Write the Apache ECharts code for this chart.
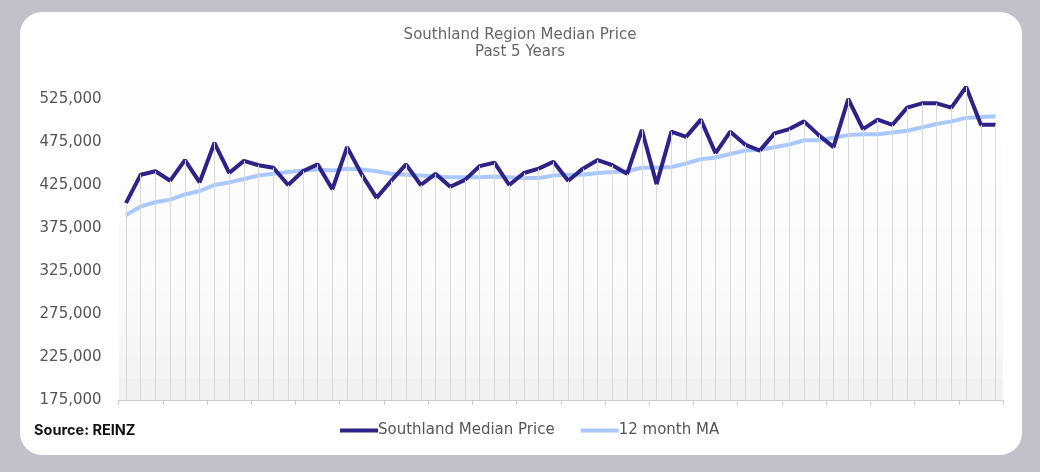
<!DOCTYPE html>
<html lang="en">
  <head>
    <meta charset="utf-8" />
    <title>Southland</title>
    <style>
      * { margin: 0; padding: 0; }
      body { background: #c2c1c9; }
      #card {
        position: absolute; left: 20px; top: 12px; width: 1002px; height: 443px;
        background: #fff; border-radius: 22px; overflow: hidden;
      }
      #chart-container { position: absolute; left: 0; top: 0; width: 1040px; height: 472px; }
      #src { position: absolute; left: 34px; top: 421px; font: bold 14.5px Inter, sans-serif; color: #111; }
    </style>
  </head>
  <body>
    <div id="card"></div>
    <div id="chart-container"></div>
    <div id="src">Source: REINZ</div>
    <script src="https://fastly.jsdelivr.net/npm/echarts@6/dist/echarts.min.js"></script>
    <script>
      var medianPrice = [404000, 437000, 441000, 430000, 454000, 428000, 474000, 439000, 453000, 448000,
        445000, 425000, 441000, 449000, 420000, 469000, 437000, 410000, 430000, 449000,
        425000, 438000, 423000, 431000, 447000, 451000, 425000, 439000, 444000, 452000,
        430000, 444000, 454000, 448000, 438000, 489000, 426000, 487000, 481000, 501000,
        462000, 487000, 472000, 465000, 485000, 490000, 499000, 483000, 469000, 525000,
        490000, 501000, 495000, 515000, 520000, 520000, 515000, 539000, 495000, 495000];
      var movingAvg = [390000, 400000, 405000, 408000, 414000, 418000, 425000, 428000, 432000, 436000,
        438000, 440000, 442000, 443000, 442000, 444000, 443000, 441000, 438000, 437000,
        436000, 435000, 434000, 434000, 434000, 435000, 434000, 433000, 433000, 436000,
        437000, 437000, 439000, 440000, 441000, 445000, 445000, 446000, 450000, 455000,
        457000, 461000, 465000, 466000, 469000, 472000, 477000, 477000, 480000, 483000,
        484000, 484000, 486000, 488000, 492000, 496000, 499000, 503000, 504000, 505000];
      var months = medianPrice.map(function (v, i) { return "M" + (i + 1); });

      var myChart = echarts.init(document.getElementById("chart-container"));
      var option = {
        title: {
          text: "Southland Region Median Price\nPast 5 Years",
          left: "center", top: 22,
          textStyle: { fontFamily: "DejaVu Sans", fontSize: 15, fontWeight: "normal", color: "#666", lineHeight: 17 }
        },
        legend: {
          bottom: 29, left: 335, itemGap: 26, itemWidth: 38, itemHeight: 4, icon: "rect",
          textStyle: { fontFamily: "DejaVu Sans", fontSize: 15, color: "#555", padding: [0, 0, 0, -5] },
          data: ["Southland Median Price", "12 month MA"]
        },
        grid: { left: 118.6, right: 37, top: 77.5, bottom: 72 },
        xAxis: {
          type: "category", data: months, boundaryGap: true,
          axisLine: { lineStyle: { color: "#ccc" } },
          axisTick: { show: true, length: 5, lineStyle: { color: "#ccc" } },
          axisLabel: { show: false },
          splitLine: { show: false }
        },
        yAxis: {
          type: "value", min: 175000, max: 550000, interval: 25000,
          axisLine: { show: false }, axisTick: { show: false },
          splitLine: { show: false },
          splitArea: { show: true, areaStyle: { color: ["#f1f1f1", "#f4f4f4", "#f6f6f6", "#f8f8f8", "#f9f9f9", "#fafafa", "#fbfbfb", "#fbfbfb", "#fcfcfc", "#fcfcfc", "#fdfdfd", "#fdfdfd", "#fefefe", "#fefefe", "#fefefe"] } },
          axisLabel: {
            fontFamily: "DejaVu Sans", fontSize: 15, color: "#555", margin: 17,
            formatter: function (v) {
              return (v - 175000) % 50000 === 0 && v <= 525000 ? v.toLocaleString("en-US") : "";
            }
          }
        },
        series: [
          {
            name: "Southland Median Price", type: "line", data: medianPrice,
            symbol: "none", z: 3,
            lineStyle: { color: "#2e2187", width: 4 }, itemStyle: { color: "#2e2187" },
            markLine: {
              silent: true, symbol: "none", label: { show: false },
              lineStyle: { color: "#d8d8d8", width: 1, type: "solid" },
              data: medianPrice.map(function (v, i) {
                return [{ coord: [i, 175000] }, { coord: [i, v] }];
              })
            }
          },
          {
            name: "12 month MA", type: "line", data: movingAvg,
            symbol: "none", z: 2,
            lineStyle: { color: "#a8c8ff", width: 4 }, itemStyle: { color: "#a8c8ff" }
          }
        ]
      };
      myChart.setOption(option);
    </script>
  </body>
</html>
